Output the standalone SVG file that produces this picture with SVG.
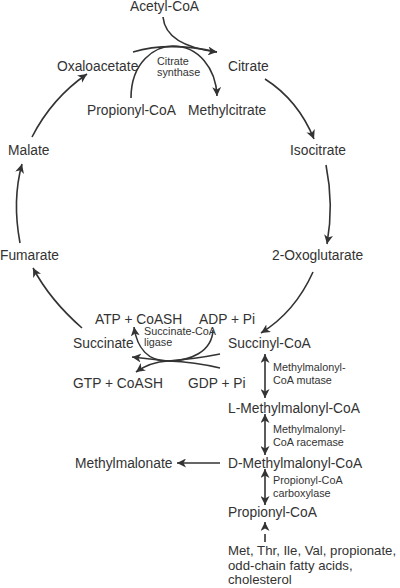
<svg xmlns="http://www.w3.org/2000/svg" width="400" height="588" viewBox="0 0 400 588">
<style>
text{font-family:"Liberation Sans",Arial,sans-serif;fill:#333}
.m{font-size:13.8px}
.s{font-size:10.8px}
.src{font-size:13.2px}
.c{fill:none;stroke:#333;stroke-width:1.6}
.a{marker-end:url(#ah)}
.d{marker-start:url(#ah);marker-end:url(#ah)}
</style>
<defs>
<marker id="ah" markerUnits="userSpaceOnUse" markerWidth="10" markerHeight="9" refX="9" refY="4.5" orient="auto-start-reverse">
<path d="M0,0 L9,4.5 L0,9 L2.5,4.5 z" fill="#333"/>
</marker>
</defs>
<rect width="400" height="588" fill="#fff"/>
<g id="connectors">
<path class="c a" d="M163 17 C165 38 185 48 217 52"/>
<path class="c" d="M133 52 C160 44 190 46 217 52"/>
<path class="c a" d="M131 98 C131 62 155 46 173 46 C198 46 216 68 217 96"/>
<path class="c a" d="M265 79 Q298 100 314 139"/>
<path class="c a" d="M326 165 Q334 205 327 244"/>
<path class="c a" d="M313 272 Q295 312 261 333"/>
<path class="c a" d="M82 328 Q50 300 33 268"/>
<path class="c a" d="M20 243 Q12 200 22 164"/>
<path class="c a" d="M32 137 Q52 98 87 74"/>
<path class="c a" d="M213 330 C212 352 190 361 168 361 C148 361 137 348 134 327"/>
<path class="c" d="M220 354 Q195 359 168 361"/>
<path class="c" d="M220 368 Q195 362 168 361"/>
<path class="c a" d="M168 361 Q150 359 132 357"/>
<path class="c a" d="M168 361 Q150 362 136 372"/>
<path class="c d" d="M265 354 L265 398"/>
<path class="c d" d="M265 414 L265 455"/>
<path class="c d" d="M265 469 L265 505"/>
<path class="c a" d="M265 542 L265 522" stroke-dasharray="8,6"/>
<path class="c a" d="M220 463 L177 463"/>
</g>
<g id="acetylcoa"><text class="m" x="130" y="11">Acetyl-CoA</text></g>
<g id="oxaloacetate"><text class="m" x="57" y="71">Oxaloacetate</text></g>
<g id="citrate"><text class="m" x="228" y="71">Citrate</text></g>
<g id="citrate-synthase"><text class="s" x="157" y="65">Citrate</text><text class="s" x="157" y="76">synthase</text></g>
<g id="propionylcoa-top"><text class="m" x="87" y="115">Propionyl-CoA</text></g>
<g id="methylcitrate"><text class="m" x="188" y="115">Methylcitrate</text></g>
<g id="malate"><text class="m" x="8" y="155">Malate</text></g>
<g id="isocitrate"><text class="m" x="290" y="155">Isocitrate</text></g>
<g id="fumarate"><text class="m" x="0" y="260">Fumarate</text></g>
<g id="oxoglutarate"><text class="m" x="272" y="260">2-Oxoglutarate</text></g>
<g id="atp"><text class="m" x="95" y="324">ATP + CoASH</text></g>
<g id="adp"><text class="m" x="199" y="324">ADP + Pi</text></g>
<g id="ligase"><text class="s" x="144" y="335">Succinate-CoA</text><text class="s" x="144" y="346">ligase</text></g>
<g id="succinate"><text class="m" x="73" y="348">Succinate</text></g>
<g id="succinylcoa"><text class="m" x="228" y="348">Succinyl-CoA</text></g>
<g id="gtp"><text class="m" x="73" y="388">GTP + CoASH</text></g>
<g id="gdp"><text class="m" x="188" y="388">GDP + Pi</text></g>
<g id="mutase"><text class="s" x="273" y="371">Methylmalonyl-</text><text class="s" x="273" y="384">CoA mutase</text></g>
<g id="l-mmcoa"><text class="m" x="228" y="413">L-Methylmalonyl-CoA</text></g>
<g id="racemase"><text class="s" x="273" y="433">Methylmalonyl-</text><text class="s" x="273" y="446">CoA racemase</text></g>
<g id="methylmalonate"><text class="m" x="75" y="468">Methylmalonate</text></g>
<g id="d-mmcoa"><text class="m" x="228" y="468">D-Methylmalonyl-CoA</text></g>
<g id="pcc"><text class="s" x="273" y="484">Propionyl-CoA</text><text class="s" x="273" y="497">carboxylase</text></g>
<g id="propionylcoa"><text class="m" x="228" y="517">Propionyl-CoA</text></g>
<g id="sources"><text class="src" x="228" y="555">Met, Thr, Ile, Val, propionate,</text><text class="src" x="228" y="570">odd-chain fatty acids,</text><text class="src" x="228" y="584">cholesterol</text></g>
</svg>
